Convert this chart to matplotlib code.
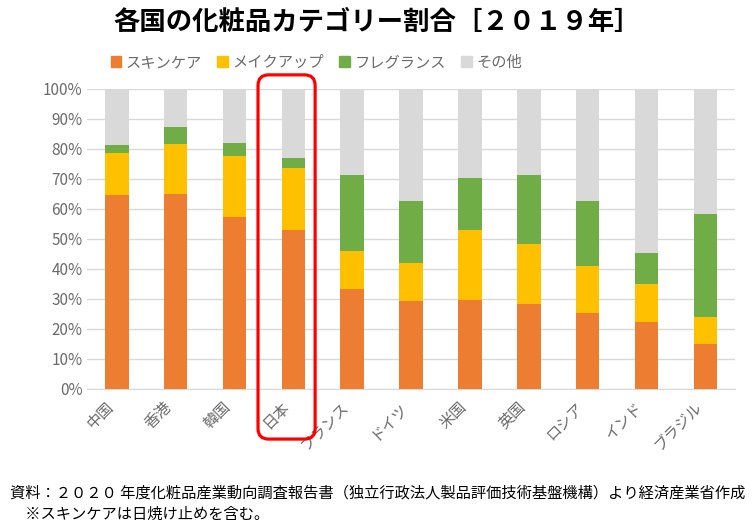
import matplotlib.pyplot as plt
import numpy as np
from matplotlib.patches import FancyBboxPatch, Patch

plt.rcParams['font.family'] = ['Noto Sans CJK JP', 'DejaVu Sans']

countries = ["中国", "香港", "韓国", "日本", "フランス", "ドイツ", "米国", "英国", "ロシア", "インド", "ブラジル"]
skincare = [64.7, 65.0, 57.3, 53.0, 33.3, 29.3, 29.7, 28.3, 25.3, 22.3, 15.0]
makeup = [14.0, 16.7, 20.4, 20.7, 12.7, 12.7, 23.3, 20.0, 15.7, 12.7, 9.0]
fragrance = [2.6, 5.6, 4.3, 3.3, 25.3, 20.7, 17.3, 23.0, 21.7, 10.3, 34.3]
series_names = ["スキンケア", "メイクアップ", "フレグランス", "その他"]
colors = ["#ED7D31", "#FFC000", "#70AD47", "#D9D9D9"]
highlight = "日本"

skincare = np.array(skincare) / 100
makeup = np.array(makeup) / 100
fragrance = np.array(fragrance) / 100
other = 1 - skincare - makeup - fragrance

fig = plt.figure(figsize=(7.56, 5.29), dpi=100)
ax = fig.add_axes([0.1155, 0.2647, 0.8565, 0.5671])

x = np.arange(len(countries))
bottom = np.zeros(len(countries))
for vals, name, c in zip([skincare, makeup, fragrance, other], series_names, colors):
    ax.bar(x, vals, width=0.4, bottom=bottom, color=c, label=name, zorder=3)
    bottom += vals

ax.set_xlim(-0.5, len(countries) - 0.5)
ax.set_ylim(0, 1)
ax.set_yticks(np.arange(0, 1.01, 0.1))
ax.set_yticklabels([f"{int(round(v * 100))}%" for v in np.arange(0, 1.01, 0.1)])
ax.set_xticks(x)
ax.set_xticklabels(countries, rotation=45, ha="right")
ax.tick_params(length=0, colors="#6b6b6b", labelsize=11)
ax.tick_params(axis="x", pad=7)
ax.grid(axis="y", color="#D9D9D9", linewidth=1, zorder=0)
for s in ["top", "right", "left"]:
    ax.spines[s].set_visible(False)
ax.spines["bottom"].set_color("#D9D9D9")

fig.text(0.499, 0.958, "各国の化粧品カテゴリー割合［２０１９年］", ha="center", va="center",
         fontsize=19, fontweight="bold", color="black")

handles = [Patch(color=c) for c in colors]
leg = fig.legend(handles, series_names, loc="center left", bbox_to_anchor=(0.128, 0.882),
                 ncol=4, frameon=False, fontsize=11, handlelength=0.7, handleheight=0.7,
                 handletextpad=0.3, columnspacing=1.0)
for t in leg.get_texts():
    t.set_color("#6b6b6b")

# red rounded box around Japan
fig.canvas.draw()
i = countries.index(highlight)
inv = fig.transFigure.inverted()
x0 = inv.transform(ax.transData.transform((i - 0.6, 0)))[0]
x1 = inv.transform(ax.transData.transform((i + 0.37, 0)))[0]
y0 = inv.transform(ax.transAxes.transform((0, -0.167)))[1]
y1 = inv.transform(ax.transAxes.transform((0, 1.047)))[1]
box = FancyBboxPatch((x0, y0), x1 - x0, y1 - y0, boxstyle="round,pad=0,rounding_size=0.014",
                     mutation_aspect=7.56 / 5.29, transform=fig.transFigure,
                     fill=False, edgecolor="#FF0000", linewidth=2.3, zorder=10)
fig.patches.append(box)

fig.text(0.013, 0.068, "資料：２０２０ 年度化粧品産業動向調査報告書（独立行政法人製品評価技術基盤機構）より経済産業省作成",
         ha="left", va="center", fontsize=11, color="black")
fig.text(0.013, 0.028, "　※スキンケアは日焼け止めを含む。", ha="left", va="center", fontsize=11, color="black")

fig.savefig("out.png", dpi=100)
